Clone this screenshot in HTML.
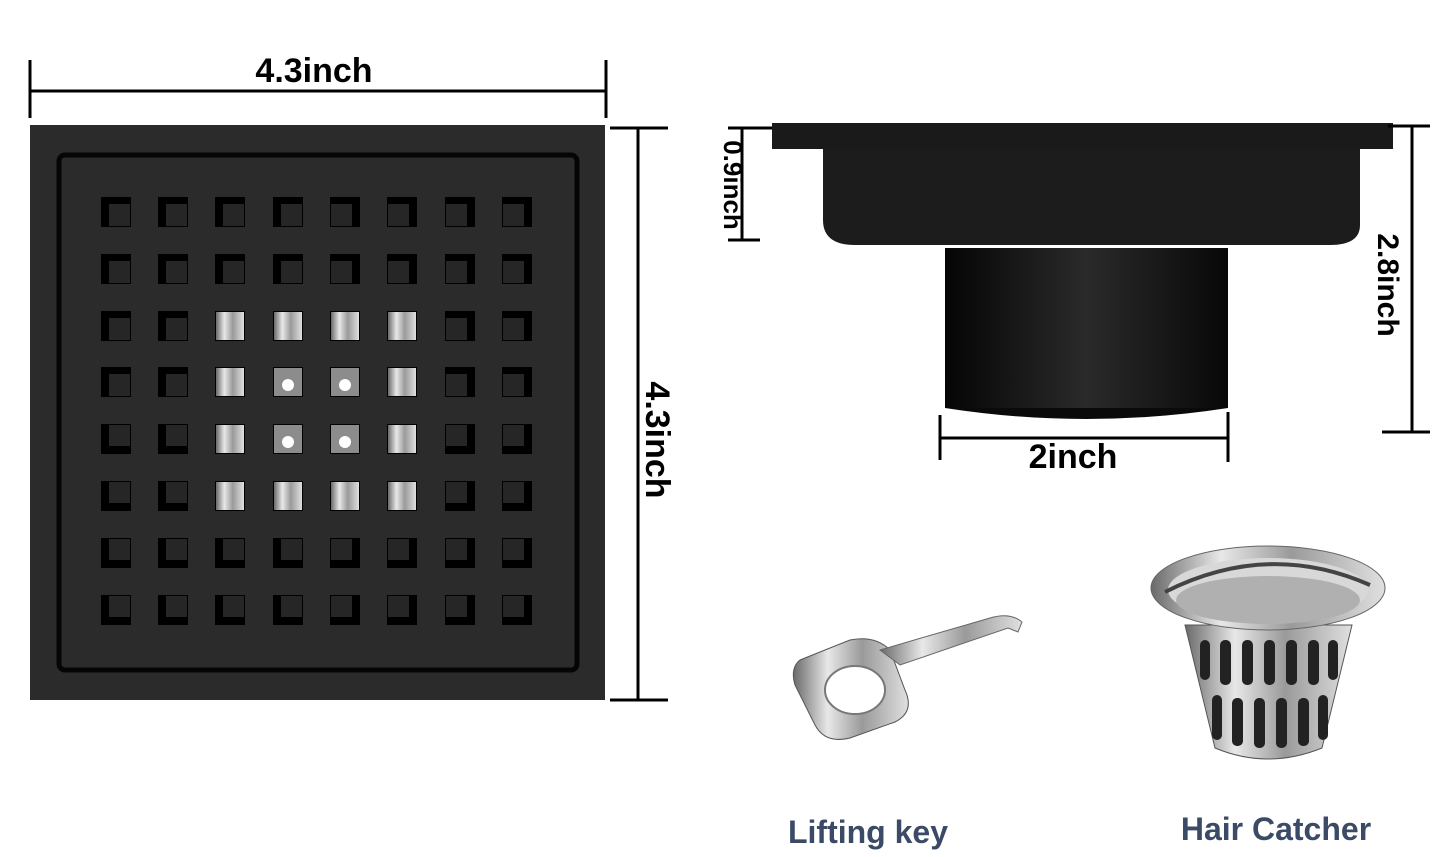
<!DOCTYPE html>
<html><head><style>
body{margin:0;background:#fff;}
svg{display:block;}
text{font-family:"Liberation Sans",sans-serif;font-weight:bold;}
</style></head><body>
<svg width="1445" height="857" viewBox="0 0 1445 857" xmlns="http://www.w3.org/2000/svg" xmlns:xlink="http://www.w3.org/1999/xlink">
<defs>
<linearGradient id="pipe" x1="0" x2="1">
<stop offset="0" stop-color="#050505"/><stop offset="0.5" stop-color="#2a2a2a"/><stop offset="1" stop-color="#080808"/>
</linearGradient>
<linearGradient id="silver" x1="0" x2="1">
<stop offset="0" stop-color="#6a6a6a"/><stop offset="0.3" stop-color="#e8e8e8"/><stop offset="0.6" stop-color="#9a9a9a"/><stop offset="1" stop-color="#e0e0e0"/>
</linearGradient>
<g id="tl"><rect width="30" height="30" fill="#000"/><rect x="8" y="7" width="21" height="22" fill="#262626"/></g>
<g id="tr"><rect width="30" height="30" fill="#000"/><rect x="1" y="7" width="21" height="22" fill="#262626"/></g>
<g id="bl"><rect width="30" height="30" fill="#000"/><rect x="8" y="1" width="21" height="21" fill="#262626"/></g>
<g id="br"><rect width="30" height="30" fill="#000"/><rect x="1" y="1" width="21" height="21" fill="#262626"/></g>
<g id="sv"><rect width="30" height="30" fill="#000"/><rect x="1" y="1" width="28" height="28" fill="url(#silver)"/></g>
<g id="sd"><rect width="30" height="30" fill="#000"/><rect x="1" y="1" width="28" height="28" fill="#8c8c8c"/><circle cx="15" cy="18" r="6" fill="#fff"/></g>
</defs>
<!-- dimension top -->
<line x1="30" y1="91" x2="606" y2="91" stroke="#000" stroke-width="3"/>
<line x1="30" y1="60" x2="30" y2="118" stroke="#000" stroke-width="3"/>
<line x1="606" y1="60" x2="606" y2="118" stroke="#000" stroke-width="3"/>
<text x="314" y="82" font-size="34" text-anchor="middle">4.3inch</text>
<!-- dimension right -->
<line x1="638" y1="128" x2="638" y2="700" stroke="#000" stroke-width="3"/>
<line x1="610" y1="128" x2="668" y2="128" stroke="#000" stroke-width="3"/>
<line x1="610" y1="700" x2="668" y2="700" stroke="#000" stroke-width="3"/>
<text transform="translate(646,440) rotate(90)" font-size="34" text-anchor="middle">4.3inch</text>
<!-- plate -->
<rect x="30" y="125" width="575" height="575" fill="#2b2b2b"/>
<rect x="59" y="155" width="518" height="515" rx="6" fill="none" stroke="#050505" stroke-width="5"/>
<!-- row 1 -->
<use href="#tl" x="101" y="197"/><use href="#tl" x="158" y="197"/><use href="#tl" x="215" y="197"/><use href="#tl" x="273" y="197"/><use href="#tr" x="330" y="197"/><use href="#tr" x="387" y="197"/><use href="#tr" x="445" y="197"/><use href="#tr" x="502" y="197"/>
<use href="#tl" x="101" y="254"/><use href="#tl" x="158" y="254"/><use href="#tl" x="215" y="254"/><use href="#tl" x="273" y="254"/><use href="#tr" x="330" y="254"/><use href="#tr" x="387" y="254"/><use href="#tr" x="445" y="254"/><use href="#tr" x="502" y="254"/>
<use href="#tl" x="101" y="311"/><use href="#tl" x="158" y="311"/><use href="#sv" x="215" y="311"/><use href="#sv" x="273" y="311"/><use href="#sv" x="330" y="311"/><use href="#sv" x="387" y="311"/><use href="#tr" x="445" y="311"/><use href="#tr" x="502" y="311"/>
<use href="#tl" x="101" y="367"/><use href="#tl" x="158" y="367"/><use href="#sv" x="215" y="367"/><use href="#sd" x="273" y="367"/><use href="#sd" x="330" y="367"/><use href="#sv" x="387" y="367"/><use href="#tr" x="445" y="367"/><use href="#tr" x="502" y="367"/>
<use href="#bl" x="101" y="424"/><use href="#bl" x="158" y="424"/><use href="#sv" x="215" y="424"/><use href="#sd" x="273" y="424"/><use href="#sd" x="330" y="424"/><use href="#sv" x="387" y="424"/><use href="#br" x="445" y="424"/><use href="#br" x="502" y="424"/>
<use href="#bl" x="101" y="481"/><use href="#bl" x="158" y="481"/><use href="#sv" x="215" y="481"/><use href="#sv" x="273" y="481"/><use href="#sv" x="330" y="481"/><use href="#sv" x="387" y="481"/><use href="#br" x="445" y="481"/><use href="#br" x="502" y="481"/>
<use href="#bl" x="101" y="538"/><use href="#bl" x="158" y="538"/><use href="#bl" x="215" y="538"/><use href="#bl" x="273" y="538"/><use href="#br" x="330" y="538"/><use href="#br" x="387" y="538"/><use href="#br" x="445" y="538"/><use href="#br" x="502" y="538"/>
<use href="#bl" x="101" y="595"/><use href="#bl" x="158" y="595"/><use href="#bl" x="215" y="595"/><use href="#bl" x="273" y="595"/><use href="#br" x="330" y="595"/><use href="#br" x="387" y="595"/><use href="#br" x="445" y="595"/><use href="#br" x="502" y="595"/>
<!-- side view -->
<rect x="772" y="123" width="621" height="26" fill="#1a1a1a"/>
<path d="M823 149 H1360 V225 Q1360 245 1330 245 H855 Q823 245 823 220 Z" fill="#1c1c1c"/>
<rect x="945" y="248" width="283" height="160" fill="url(#pipe)"/>
<path d="M945 408 Q1086 430 1228 408 Z" fill="#0a0a0a"/>
<line x1="742" y1="128" x2="742" y2="240" stroke="#000" stroke-width="3"/>
<line x1="728" y1="128" x2="772" y2="128" stroke="#000" stroke-width="3"/>
<line x1="728" y1="240" x2="760" y2="240" stroke="#000" stroke-width="3"/>
<text transform="translate(724,185) rotate(90)" font-size="26" text-anchor="middle">0.9inch</text>
<line x1="1412" y1="126" x2="1412" y2="432" stroke="#000" stroke-width="3"/>
<line x1="1388" y1="126" x2="1430" y2="126" stroke="#000" stroke-width="3"/>
<line x1="1382" y1="432" x2="1430" y2="432" stroke="#000" stroke-width="3"/>
<text transform="translate(1378,285) rotate(90)" font-size="30" text-anchor="middle">2.8inch</text>
<line x1="940" y1="438" x2="1228" y2="438" stroke="#000" stroke-width="3"/>
<line x1="940" y1="415" x2="940" y2="460" stroke="#000" stroke-width="3"/>
<line x1="1228" y1="412" x2="1228" y2="462" stroke="#000" stroke-width="3"/>
<text x="1073" y="468" font-size="34" text-anchor="middle">2inch</text>
<!-- lifting key -->
<path d="M800 660 L850 640 Q875 635 890 650 L905 690 Q915 712 895 722 L850 738 Q825 744 815 725 L795 685 Q790 668 800 660 Z" fill="url(#silver)" stroke="#555" stroke-width="1"/>
<ellipse cx="855" cy="690" rx="30" ry="24" fill="#fff" stroke="#777" stroke-width="2"/>
<path d="M880 650 L990 618 Q1010 612 1022 622 L1018 632 L1008 628 L900 665 Z" fill="url(#silver)" stroke="#666" stroke-width="1"/>
<!-- hair catcher -->
<path d="M1185 625 L1352 625 L1322 748 Q1268 770 1215 748 Z" fill="url(#silver)" stroke="#555"/>
<g fill="#222">
<rect x="1200" y="640" width="10" height="40" rx="5"/><rect x="1220" y="640" width="11" height="45" rx="5"/><rect x="1242" y="640" width="11" height="45" rx="5"/><rect x="1264" y="640" width="11" height="45" rx="5"/><rect x="1286" y="640" width="11" height="45" rx="5"/><rect x="1308" y="640" width="11" height="45" rx="5"/><rect x="1328" y="640" width="10" height="40" rx="5"/>
<rect x="1212" y="695" width="10" height="45" rx="5"/><rect x="1232" y="698" width="11" height="48" rx="5"/><rect x="1254" y="698" width="11" height="50" rx="5"/><rect x="1276" y="698" width="11" height="50" rx="5"/><rect x="1298" y="698" width="11" height="48" rx="5"/><rect x="1318" y="695" width="10" height="45" rx="5"/>
</g>
<ellipse cx="1268" cy="588" rx="117" ry="42" fill="url(#silver)" stroke="#666"/>
<ellipse cx="1268" cy="590" rx="100" ry="32" fill="#d8d8d8"/>
<ellipse cx="1268" cy="600" rx="92" ry="24" fill="#b0b0b0"/>
<path d="M1165 592 Q1268 540 1370 585" fill="none" stroke="#444" stroke-width="4"/>
<text x="868" y="843" font-size="32" fill="#3b4a66" text-anchor="middle">Lifting key</text>
<text x="1276" y="840" font-size="32" fill="#3b4a66" text-anchor="middle">Hair Catcher</text>
</svg>
</body></html>
